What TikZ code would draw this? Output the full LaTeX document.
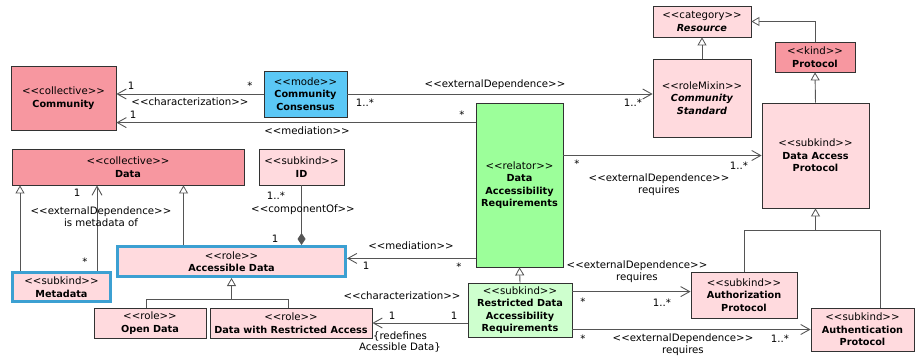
\documentclass[tikz,border=0pt]{standalone}
\usepackage{fontspec}
\setmainfont{DejaVu Sans}
\usetikzlibrary{arrows.meta}
\definecolor{redf}{RGB}{247,151,160}
\definecolor{pinkf}{RGB}{255,218,222}
\definecolor{bluef}{RGB}{91,200,246}
\definecolor{greenf}{RGB}{156,255,154}
\definecolor{lgreenf}{RGB}{206,255,206}
\definecolor{hlblue}{RGB}{60,160,210}
\definecolor{boxline}{RGB}{50,50,50}
\definecolor{edgec}{RGB}{85,85,85}
\newcommand\stereo[1]{<{}<#1>{}>}
\newcommand\bt[1]{{\fontsize{9.7}{12.4}\selectfont\bfseries #1}}
\begin{document}
\begin{tikzpicture}[x=1pt,y=-1pt,
  cls/.style={draw=boxline, line width=0.8pt, align=center, inner sep=1pt, font=\fontsize{10.2}{12.4}\selectfont},
  hl/.style={draw=hlblue, line width=3pt},
  lbl/.style={inner sep=0.5pt, align=center, font=\fontsize{10.2}{11.8}\selectfont},
  assoc/.style={draw=edgec, line width=0.9pt, -{Straight Barb[length=9pt,width=10pt,line width=0.9pt]}},
  gen/.style={draw=edgec, line width=0.9pt, -{Triangle[open,length=8pt,width=9pt,fill=white,line width=0.8pt]}},
  plainline/.style={draw=edgec, line width=0.9pt},
  comp/.style={draw=edgec, line width=0.9pt, -{Diamond[length=12pt,width=8pt]}}]
\useasboundingbox (0,0) rectangle (915,358);

% classes
\node[cls, fill=redf, minimum width=105pt, minimum height=64pt] (comm) at (63.5,98) {\stereo{collective}\\\bt{Community}};
\node[cls, fill=bluef, minimum width=83pt, minimum height=46pt] (cc) at (305.5,94) {\stereo{mode}\\\bt{Community}\\\bt{Consensus}};
\node[cls, fill=greenf, minimum width=87pt, minimum height=164pt] (dar) at (519.5,185) {\stereo{relator}\\\bt{Data}\\\bt{Accessibility}\\\bt{Requirements}};
\node[cls, fill=pinkf, minimum width=98pt, minimum height=31pt] (res) at (702,21.5) {\stereo{category}\\\bt{\itshape Resource}};
\node[cls, fill=redf, minimum width=80pt, minimum height=30pt] (prot) at (815,57) {\stereo{kind}\\\bt{Protocol}};
\node[cls, fill=pinkf, minimum width=98pt, minimum height=78pt] (cs) at (702,98) {\stereo{roleMixin}\\\bt{\itshape Community}\\\bt{\itshape Standard}};
\node[cls, fill=pinkf, minimum width=107pt, minimum height=105pt] (dap) at (815.5,155.5) {\stereo{subkind}\\\bt{Data Access}\\\bt{Protocol}};
\node[cls, fill=pinkf, minimum width=106pt, minimum height=46pt] (authz) at (744,295) {\stereo{subkind}\\\bt{Authorization}\\\bt{Protocol}};
\node[cls, fill=pinkf, minimum width=103pt, minimum height=43pt] (authn) at (862.5,329.5) {\stereo{subkind}\\\bt{Authentication}\\\bt{Protocol}};
\node[cls, fill=lgreenf, minimum width=104pt, minimum height=54pt] (rdar) at (520,310) {\stereo{subkind}\\\bt{Restricted Data}\\\bt{Accessibility}\\\bt{Requirements}};
\node[cls, fill=redf, minimum width=232pt, minimum height=36pt] (data) at (128,167) {\stereo{collective}\\\bt{Data}};
\node[cls, fill=pinkf, minimum width=85pt, minimum height=36pt] (id) at (301.5,167) {\stereo{subkind}\\\bt{ID}};
\node[cls, hl, fill=pinkf, minimum width=228pt, minimum height=30pt] (ad) at (231.5,261.5) {\stereo{role}\\\bt{Accessible Data}};
\node[cls, hl, fill=pinkf, minimum width=98pt, minimum height=29pt] (meta) at (61.5,287) {\stereo{subkind}\\\bt{Metadata}};
\node[cls, fill=pinkf, minimum width=112pt, minimum height=30pt] (od) at (150,323) {\stereo{role}\\\bt{Open Data}};
\node[cls, fill=pinkf, minimum width=162pt, minimum height=30pt] (dwra) at (291,323) {\stereo{role}\\\bt{Data with Restricted Access}};

% associations
\draw[assoc] (cc.west) -- (cc.west -| comm.east);
\draw[assoc] ([yshift=-20pt]dar.north west) coordinate (m1) -- (m1 -| comm.east);
\draw[assoc] (cc.east) -- (cc.east -| cs.west);
\draw[assoc] (dap.west -| dar.east) -- (dap.west);
\draw[assoc] ([yshift=9pt]dar.south west) coordinate (m2) -- (m2 -| ad.east);
\draw[assoc] (dwra.east -| rdar.west) -- (dwra.east);
\draw[assoc] ([yshift=-9pt]rdar.north east) coordinate (m3) -- (m3 -| authz.west);
\draw[assoc] (authn.west -| rdar.east) -- (authn.west);
\draw[assoc] ([xshift=-15pt]meta.north east) coordinate (m4) -- (m4 |- data.south);
\draw[comp] (id.south) -- (id.south |- ad.north);

% generalizations
\draw[gen] (cs.north) -- (res.south);
\draw[gen] (prot.north) |- (res.east);
\draw[gen] (dap.north) -- (prot.south);
\coordinate (gj) at ([yshift=-22pt]dap.south);
\draw[plainline] (authz.north) |- ([xshift=17.5pt]authn.north |- gj);
\draw[plainline] ([xshift=17.5pt]authn.north) -- ([xshift=17.5pt]authn.north |- gj);
\draw[gen] (gj) -- (dap.south);
\draw[gen] (rdar.north) -- (dar.south);
\draw[gen] ([xshift=9pt]meta.north west) coordinate (m5) -- (m5 |- data.south);
\draw[gen] ([xshift=-48pt]ad.north) coordinate (m6) -- (m6 |- data.south);
\coordinate (gk) at ([yshift=-21pt]ad.south);
\draw[plainline] ([xshift=-4pt]od.north) |- ([xshift=-3pt]dwra.north |- gk);
\draw[plainline] ([xshift=-3pt]dwra.north) -- ([xshift=-3pt]dwra.north |- gk);
\draw[gen] (gk) -- (ad.south);

% labels
\node[lbl] (t1) at (131,86) {1};
\node[lbl] (t2) at (250,86) {*};
\node[lbl] (t3) at (190,102) {\stereo{characterization}};
\node[lbl] (t4) at (133,115) {1};
\node[lbl] (t5) at (307,131) {\stereo{mediation}};
\node[lbl] (t6) at (462,115) {*};
\node[lbl] (t7) at (495,85) {\stereo{externalDependence}};
\node[lbl] (t8) at (365,103) {1..*};
\node[lbl] (t9) at (633,103) {1..*};
\node[lbl] (t10) at (577,164) {*};
\node[lbl] (t11) at (739,166) {1..*};
\node[lbl] (t12) at (659,185) {\stereo{externalDependence}\\requires};
\node[lbl] (t13) at (637,272) {\stereo{externalDependence}\\requires};
\node[lbl] (t14) at (583,302) {*};
\node[lbl] (t15) at (662,303) {1..*};
\node[lbl] (t16) at (583,339) {*};
\node[lbl] (t17) at (683,345) {\stereo{externalDependence}\\requires};
\node[lbl] (t18) at (780,339) {1..*};
\node[lbl] (t19) at (411,246) {\stereo{mediation}};
\node[lbl] (t20) at (366,266) {1};
\node[lbl] (t21) at (459,267) {*};
\node[lbl] (t22) at (77,193) {1};
\node[lbl] (t23) at (101,217) {\stereo{externalDependence}\\is metadata of};
\node[lbl] (t24) at (85,262) {*};
\node[lbl] (t25) at (276,196) {1..*};
\node[lbl] (t26) at (303,210) {\stereo{componentOf}};
\node[lbl] (t27) at (275,239) {1};
\node[lbl] (t28) at (402,296) {\stereo{characterization}};
\node[lbl] (t29) at (392,316) {1};
\node[lbl] (t30) at (454,316) {1};
\node[lbl] (t31) at (400,342) {\{redefines\\Acessible Data\}};
\end{tikzpicture}
\end{document}
